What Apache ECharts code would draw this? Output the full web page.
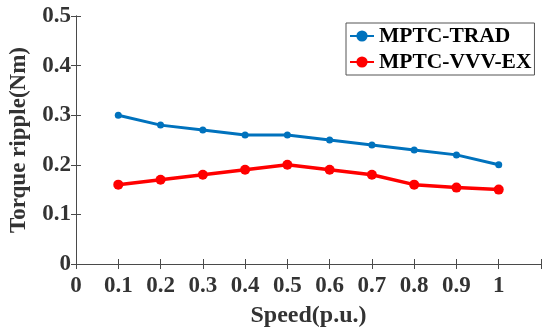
<!DOCTYPE html>
<html><head><meta charset="utf-8">
<script src="https://cdn.jsdelivr.net/npm/echarts@6/dist/echarts.min.js"></script>
<style>html,body{margin:0;padding:0;background:#fff}#c{width:550px;height:333px}</style>
</head><body><div id="c"></div>
<script>
const speeds = [0.1,0.2,0.3,0.4,0.5,0.6,0.7,0.8,0.9,1.0];
const trad = [0.30,0.28,0.27,0.26,0.26,0.25,0.24,0.23,0.22,0.20];
const vvvex = [0.16,0.17,0.18,0.19,0.20,0.19,0.18,0.16,0.154,0.15];
const seriesNames = ['MPTC-TRAD','MPTC-VVV-EX'];
const xTitle = 'Speed(p.u.)';
const yTitle = 'Torque ripple(Nm)';

const FONT = '"Liberation Serif","Times New Roman",serif';
const AX = '#4a4a4a';
const chart = echarts.init(document.getElementById('c'));
const lbl = {fontFamily:FONT,fontWeight:'bold',fontSize:23,color:'#333'};
chart.setOption({
  animation:false,
  grid:{left:69,top:16,right:9,bottom:69,show:false},
  legend:{
    orient:'vertical',left:346,top:23,
    backgroundColor:'#fff',borderColor:'#555',borderWidth:1,
    padding:[2,3,2,3],itemGap:4,itemWidth:24,itemHeight:14,
    textStyle:{fontFamily:FONT,fontWeight:'bold',fontSize:21.5,color:'#000'},
    data:seriesNames
  },
  xAxis:[{
    type:'value',min:0,max:1.1,interval:0.1,
    axisLine:{show:true,lineStyle:{color:AX,width:1}},
    axisTick:{show:true,inside:true,length:5,lineStyle:{color:AX}},
    splitLine:{show:false},
    axisLabel:Object.assign({margin:11,formatter:v=>v>1.05?'':String(Math.round(v*10)/10)},lbl),
    name:xTitle,nameLocation:'middle',nameGap:40,
    nameTextStyle:{fontFamily:FONT,fontWeight:'bold',fontSize:24,color:'#333'}
  },{
    type:'value',min:0,max:1.1,interval:0.1,position:'top',
    axisLine:{show:true,lineStyle:{color:AX,width:1}},
    axisTick:{show:true,inside:true,length:5,lineStyle:{color:AX}},
    splitLine:{show:false},axisLabel:{show:false}
  }],
  yAxis:[{
    type:'value',min:0,max:0.5,interval:0.1,
    axisLine:{show:true,lineStyle:{color:AX,width:1}},
    axisTick:{show:true,inside:true,length:5,lineStyle:{color:AX}},
    splitLine:{show:false},
    axisLabel:Object.assign({margin:5},lbl),
    name:yTitle,nameLocation:'middle',nameGap:45,
    nameTextStyle:{fontFamily:FONT,fontWeight:'bold',fontSize:23,color:'#333'}
  },{
    type:'value',min:0,max:0.5,interval:0.1,position:'right',
    axisLine:{show:true,lineStyle:{color:AX,width:1}},
    axisTick:{show:true,inside:true,length:5,lineStyle:{color:AX}},
    splitLine:{show:false},axisLabel:{show:false}
  }],
  series:[{
    name:seriesNames[0],type:'line',
    data:speeds.map((s,i)=>[s,trad[i]]),
    symbol:'circle',symbolSize:7,
    lineStyle:{color:'#0072BD',width:3},
    itemStyle:{color:'#0072BD'}
  },{
    name:seriesNames[1],type:'line',
    data:speeds.map((s,i)=>[s,vvvex[i]]),
    symbol:'circle',symbolSize:10,
    lineStyle:{color:'#FF0000',width:3.5},
    itemStyle:{color:'#FF0000'}
  }]
});
</script></body></html>
